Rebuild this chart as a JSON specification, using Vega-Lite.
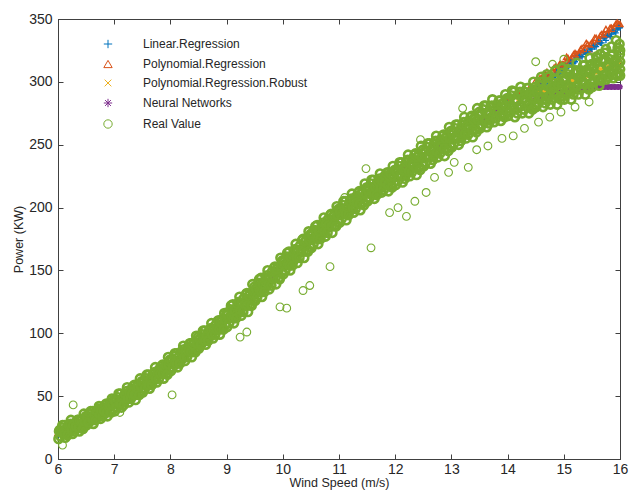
{
"$schema":"https://vega.github.io/schema/vega-lite/v6.json",
"width":562,"height":440,
"autosize":"none",
"padding":{"left":58,"top":19,"right":10,"bottom":45},
"background":"white",
"view":{"stroke":"#404040","strokeWidth":1},
"config":{"font":"Liberation Sans","axis":{"grid":false,"domainColor":"#404040","tickColor":"#404040","labelColor":"#262626","titleColor":"#262626","labelFont":"Liberation Sans","titleFont":"Liberation Sans","labelFontSize":14,"titleFontSize":12.5,"titleFontWeight":"normal","tickSize":-5,"labelFlush":false}},
"datasets":{
"pred":[
{"x":6.0,"LR":18,"PR":21,"RB":20,"NN":21},{"x":6.2,"LR":23,"PR":25,"RB":24,"NN":24},{"x":6.4,"LR":27,"PR":29,"RB":28,"NN":28},{"x":6.6,"LR":32,"PR":33,"RB":33,"NN":33},{"x":6.8,"LR":38,"PR":38,"RB":38,"NN":38},{"x":7.0,"LR":44,"PR":43,"RB":43,"NN":43},{"x":7.2,"LR":50,"PR":49,"RB":49,"NN":49},{"x":7.4,"LR":56,"PR":55,"RB":55,"NN":55},{"x":7.6,"LR":63,"PR":61,"RB":61,"NN":61},{"x":7.8,"LR":69,"PR":68,"RB":68,"NN":68},{"x":8.0,"LR":76,"PR":75,"RB":75,"NN":75},{"x":8.2,"LR":83,"PR":82,"RB":82,"NN":82},{"x":8.4,"LR":90,"PR":89,"RB":89,"NN":89},{"x":8.6,"LR":97,"PR":96,"RB":96,"NN":96},{"x":8.8,"LR":104,"PR":104,"RB":103,"NN":103},{"x":9.0,"LR":112,"PR":111,"RB":111,"NN":111},{"x":9.2,"LR":120,"PR":119,"RB":119,"NN":119},{"x":9.4,"LR":128,"PR":127,"RB":127,"NN":127},{"x":9.6,"LR":136,"PR":136,"RB":136,"NN":136},{"x":9.8,"LR":145,"PR":144,"RB":144,"NN":144},{"x":10.0,"LR":153,"PR":153,"RB":153,"NN":153},{"x":10.2,"LR":161,"PR":161,"RB":161,"NN":162},{"x":10.4,"LR":169,"PR":170,"RB":170,"NN":170},{"x":10.6,"LR":177,"PR":178,"RB":178,"NN":178},{"x":10.8,"LR":185,"PR":186,"RB":186,"NN":186},{"x":11.0,"LR":193,"PR":194,"RB":194,"NN":194},{"x":11.2,"LR":200,"PR":201,"RB":201,"NN":201},{"x":11.4,"LR":207,"PR":208,"RB":208,"NN":208},{"x":11.6,"LR":214,"PR":214,"RB":214,"NN":214},{"x":11.8,"LR":220,"PR":220,"RB":220,"NN":220},{"x":12.0,"LR":226,"PR":226,"RB":226,"NN":226},{"x":12.2,"LR":232,"PR":232,"RB":231,"NN":231},{"x":12.4,"LR":238,"PR":238,"RB":237,"NN":237},{"x":12.6,"LR":244,"PR":244,"RB":243,"NN":243},{"x":12.8,"LR":250,"PR":250,"RB":249,"NN":249},{"x":13.0,"LR":256,"PR":256,"RB":255,"NN":255},{"x":13.2,"LR":262,"PR":262,"RB":261,"NN":261},{"x":13.4,"LR":268,"PR":268,"RB":266,"NN":266},{"x":13.6,"LR":274,"PR":274,"RB":271,"NN":271},{"x":13.8,"LR":280,"PR":280,"RB":276,"NN":276},{"x":14.0,"LR":284,"PR":285,"RB":280,"NN":280},{"x":14.2,"LR":289,"PR":290,"RB":284,"NN":283},{"x":14.4,"LR":294,"PR":296,"RB":288,"NN":286},
{"x":14.5,"LR":294,"PR":301,"RB":290,"NN":287},{"x":14.55,"LR":298,"PR":299,"RB":291,"NN":288},{"x":14.6,"LR":298,"PR":303,"RB":292,"NN":288},{"x":14.65,"LR":302,"PR":303,"RB":293,"NN":289},{"x":14.7,"LR":299,"PR":308,"RB":293,"NN":289},{"x":14.75,"LR":304,"PR":304,"RB":294,"NN":290},{"x":14.8,"LR":304,"PR":309,"RB":295,"NN":290},{"x":14.85,"LR":305,"PR":312,"RB":296,"NN":291},{"x":14.9,"LR":309,"PR":310,"RB":297,"NN":291},{"x":14.95,"LR":309,"PR":314,"RB":298,"NN":292},{"x":15.0,"LR":313,"PR":314,"RB":298,"NN":292},{"x":15.05,"LR":311,"PR":320,"RB":299,"NN":293},{"x":15.1,"LR":315,"PR":315,"RB":300,"NN":293},{"x":15.15,"LR":315,"PR":320,"RB":301,"NN":294},{"x":15.2,"LR":316,"PR":323,"RB":302,"NN":294},{"x":15.25,"LR":320,"PR":321,"RB":303,"NN":294},{"x":15.3,"LR":321,"PR":326,"RB":304,"NN":295},{"x":15.35,"LR":324,"PR":325,"RB":304,"NN":295},{"x":15.4,"LR":322,"PR":331,"RB":305,"NN":296},{"x":15.45,"LR":326,"PR":326,"RB":306,"NN":296},{"x":15.5,"LR":326,"PR":331,"RB":307,"NN":296},{"x":15.55,"LR":328,"PR":335,"RB":308,"NN":296},{"x":15.6,"LR":331,"PR":332,"RB":309,"NN":296},{"x":15.65,"LR":331,"PR":337,"RB":310,"NN":296},{"x":15.7,"LR":335,"PR":337,"RB":311,"NN":296},{"x":15.75,"LR":333,"PR":342,"RB":311,"NN":296},{"x":15.8,"LR":338,"PR":338,"RB":312,"NN":296},{"x":15.85,"LR":338,"PR":343,"RB":313,"NN":296},{"x":15.9,"LR":340,"PR":344,"RB":314,"NN":296},{"x":15.95,"LR":342,"PR":347,"RB":315,"NN":296},{"x":16.0,"LR":343,"PR":346,"RB":316,"NN":296},
{"x":14.525,"LR":297,"PR":298,"RB":290,"NN":287},{"x":14.575,"LR":296,"PR":303,"RB":291,"NN":288},{"x":14.625,"LR":300,"PR":302,"RB":292,"NN":288},{"x":14.675,"LR":299,"PR":306,"RB":293,"NN":289},{"x":14.725,"LR":303,"PR":306,"RB":293,"NN":289},{"x":14.775,"LR":305,"PR":306,"RB":294,"NN":290},{"x":14.825,"LR":304,"PR":311,"RB":295,"NN":290},{"x":14.875,"LR":308,"PR":310,"RB":296,"NN":291},{"x":14.925,"LR":307,"PR":314,"RB":297,"NN":291},{"x":14.975,"LR":311,"PR":314,"RB":298,"NN":292},{"x":15.025,"LR":313,"PR":314,"RB":298,"NN":292},{"x":15.075,"LR":312,"PR":319,"RB":299,"NN":293},{"x":15.125,"LR":316,"PR":318,"RB":300,"NN":293},{"x":15.175,"LR":315,"PR":322,"RB":301,"NN":294},{"x":15.225,"LR":319,"PR":322,"RB":302,"NN":294},{"x":15.275,"LR":321,"PR":322,"RB":303,"NN":294},{"x":15.325,"LR":320,"PR":327,"RB":304,"NN":295},{"x":15.375,"LR":324,"PR":326,"RB":304,"NN":295},{"x":15.425,"LR":323,"PR":330,"RB":305,"NN":296},{"x":15.475,"LR":327,"PR":330,"RB":306,"NN":296},{"x":15.525,"LR":329,"PR":330,"RB":307,"NN":296},{"x":15.575,"LR":328,"PR":335,"RB":308,"NN":296},{"x":15.625,"LR":332,"PR":334,"RB":309,"NN":296},{"x":15.675,"LR":331,"PR":338,"RB":310,"NN":296},{"x":15.725,"LR":335,"PR":338,"RB":311,"NN":296},{"x":15.775,"LR":337,"PR":338,"RB":311,"NN":296},{"x":15.825,"LR":336,"PR":343,"RB":312,"NN":296},{"x":15.875,"LR":340,"PR":342,"RB":313,"NN":296},{"x":15.925,"LR":339,"PR":346,"RB":314,"NN":296},{"x":15.975,"LR":343,"PR":346,"RB":315,"NN":296}
],
"real":[
{"x":6.01,"RV":16},{"x":6.03,"RV":23},{"x":6.06,"RV":21},{"x":6.08,"RV":27},{"x":6.11,"RV":27},{"x":6.13,"RV":17},{"x":6.16,"RV":24},{"x":6.18,"RV":21},{"x":6.21,"RV":22},{"x":6.23,"RV":31},{"x":6.26,"RV":20},{"x":6.28,"RV":26},{"x":6.31,"RV":29},{"x":6.33,"RV":25},{"x":6.36,"RV":31},{"x":6.38,"RV":22},{"x":6.41,"RV":28},{"x":6.43,"RV":25},{"x":6.46,"RV":36},{"x":6.48,"RV":27},
{"x":6.51,"RV":27},{"x":6.53,"RV":34},{"x":6.56,"RV":31},{"x":6.58,"RV":38},{"x":6.61,"RV":38},{"x":6.63,"RV":28},{"x":6.66,"RV":36},{"x":6.68,"RV":33},{"x":6.71,"RV":34},{"x":6.73,"RV":42},{"x":6.76,"RV":32},{"x":6.78,"RV":38},{"x":6.81,"RV":41},{"x":6.83,"RV":38},{"x":6.86,"RV":44},{"x":6.88,"RV":34},{"x":6.91,"RV":41},{"x":6.93,"RV":38},{"x":6.96,"RV":48},{"x":6.98,"RV":40},
{"x":7.01,"RV":38},{"x":7.03,"RV":47},{"x":7.06,"RV":44},{"x":7.08,"RV":52},{"x":7.11,"RV":52},{"x":7.13,"RV":41},{"x":7.16,"RV":49},{"x":7.18,"RV":46},{"x":7.21,"RV":47},{"x":7.23,"RV":57},{"x":7.26,"RV":45},{"x":7.28,"RV":52},{"x":7.31,"RV":56},{"x":7.33,"RV":51},{"x":7.36,"RV":59},{"x":7.38,"RV":47},{"x":7.41,"RV":55},{"x":7.43,"RV":52},{"x":7.46,"RV":64},{"x":7.48,"RV":54},
{"x":7.51,"RV":53},{"x":7.53,"RV":62},{"x":7.56,"RV":59},{"x":7.58,"RV":67},{"x":7.61,"RV":67},{"x":7.63,"RV":56},{"x":7.66,"RV":65},{"x":7.68,"RV":61},{"x":7.71,"RV":63},{"x":7.73,"RV":73},{"x":7.76,"RV":61},{"x":7.78,"RV":68},{"x":7.81,"RV":72},{"x":7.83,"RV":68},{"x":7.86,"RV":75},{"x":7.88,"RV":64},{"x":7.91,"RV":72},{"x":7.93,"RV":68},{"x":7.96,"RV":81},{"x":7.98,"RV":71},
{"x":8.01,"RV":70},{"x":8.03,"RV":79},{"x":8.06,"RV":76},{"x":8.08,"RV":84},{"x":8.11,"RV":84},{"x":8.13,"RV":73},{"x":8.16,"RV":82},{"x":8.18,"RV":78},{"x":8.21,"RV":80},{"x":8.23,"RV":90},{"x":8.26,"RV":78},{"x":8.28,"RV":86},{"x":8.31,"RV":89},{"x":8.33,"RV":85},{"x":8.36,"RV":92},{"x":8.38,"RV":81},{"x":8.41,"RV":89},{"x":8.43,"RV":86},{"x":8.46,"RV":98},{"x":8.48,"RV":88},
{"x":8.51,"RV":88},{"x":8.53,"RV":96},{"x":8.56,"RV":94},{"x":8.58,"RV":102},{"x":8.61,"RV":102},{"x":8.63,"RV":91},{"x":8.66,"RV":100},{"x":8.68,"RV":96},{"x":8.71,"RV":98},{"x":8.73,"RV":108},{"x":8.76,"RV":96},{"x":8.78,"RV":103},{"x":8.81,"RV":107},{"x":8.83,"RV":103},{"x":8.86,"RV":110},{"x":8.88,"RV":99},{"x":8.91,"RV":107},{"x":8.93,"RV":104},{"x":8.96,"RV":116},{"x":8.98,"RV":107},
{"x":9.01,"RV":105},{"x":9.03,"RV":116},{"x":9.06,"RV":113},{"x":9.08,"RV":122},{"x":9.11,"RV":123},{"x":9.13,"RV":108},{"x":9.16,"RV":119},{"x":9.18,"RV":115},{"x":9.21,"RV":117},{"x":9.23,"RV":129},{"x":9.26,"RV":114},{"x":9.28,"RV":123},{"x":9.31,"RV":128},{"x":9.33,"RV":122},{"x":9.36,"RV":132},{"x":9.38,"RV":117},{"x":9.41,"RV":127},{"x":9.43,"RV":123},{"x":9.46,"RV":139},{"x":9.48,"RV":126},
{"x":9.51,"RV":126},{"x":9.53,"RV":136},{"x":9.56,"RV":133},{"x":9.58,"RV":143},{"x":9.61,"RV":144},{"x":9.63,"RV":129},{"x":9.66,"RV":140},{"x":9.68,"RV":136},{"x":9.71,"RV":138},{"x":9.73,"RV":150},{"x":9.76,"RV":135},{"x":9.78,"RV":144},{"x":9.81,"RV":149},{"x":9.83,"RV":144},{"x":9.86,"RV":153},{"x":9.88,"RV":139},{"x":9.91,"RV":149},{"x":9.93,"RV":144},{"x":9.96,"RV":160},{"x":9.98,"RV":148},
{"x":10.01,"RV":147},{"x":10.03,"RV":158},{"x":10.06,"RV":155},{"x":10.08,"RV":164},{"x":10.11,"RV":165},{"x":10.13,"RV":150},{"x":10.16,"RV":161},{"x":10.18,"RV":157},{"x":10.21,"RV":159},{"x":10.23,"RV":171},{"x":10.26,"RV":156},{"x":10.28,"RV":166},{"x":10.31,"RV":170},{"x":10.33,"RV":165},{"x":10.36,"RV":175},{"x":10.38,"RV":160},{"x":10.41,"RV":170},{"x":10.43,"RV":166},{"x":10.46,"RV":181},{"x":10.48,"RV":169},
{"x":10.51,"RV":168},{"x":10.53,"RV":179},{"x":10.56,"RV":176},{"x":10.58,"RV":185},{"x":10.61,"RV":186},{"x":10.63,"RV":171},{"x":10.66,"RV":182},{"x":10.68,"RV":178},{"x":10.71,"RV":180},{"x":10.73,"RV":192},{"x":10.76,"RV":177},{"x":10.78,"RV":186},{"x":10.81,"RV":191},{"x":10.83,"RV":185},{"x":10.86,"RV":195},{"x":10.88,"RV":180},{"x":10.91,"RV":190},{"x":10.93,"RV":186},{"x":10.96,"RV":201},{"x":10.98,"RV":189},
{"x":11.01,"RV":188},{"x":11.03,"RV":199},{"x":11.06,"RV":195},{"x":11.08,"RV":205},{"x":11.11,"RV":205},{"x":11.13,"RV":190},{"x":11.16,"RV":201},{"x":11.18,"RV":197},{"x":11.21,"RV":199},{"x":11.23,"RV":211},{"x":11.26,"RV":196},{"x":11.28,"RV":205},{"x":11.31,"RV":209},{"x":11.33,"RV":204},{"x":11.36,"RV":213},{"x":11.38,"RV":198},{"x":11.41,"RV":208},{"x":11.43,"RV":204},{"x":11.46,"RV":219},{"x":11.48,"RV":206},
{"x":11.51,"RV":205},{"x":11.53,"RV":216},{"x":11.56,"RV":212},{"x":11.58,"RV":222},{"x":11.61,"RV":222},{"x":11.63,"RV":207},{"x":11.66,"RV":218},{"x":11.68,"RV":213},{"x":11.71,"RV":215},{"x":11.73,"RV":227},{"x":11.76,"RV":212},{"x":11.78,"RV":220},{"x":11.81,"RV":225},{"x":11.83,"RV":219},{"x":11.86,"RV":228},{"x":11.88,"RV":213},{"x":11.91,"RV":223},{"x":11.93,"RV":218},{"x":11.96,"RV":233},{"x":11.98,"RV":220},
{"x":12.01,"RV":218},{"x":12.03,"RV":230},{"x":12.06,"RV":226},{"x":12.08,"RV":236},{"x":12.11,"RV":236},{"x":12.13,"RV":220},{"x":12.16,"RV":232},{"x":12.18,"RV":226},{"x":12.21,"RV":228},{"x":12.23,"RV":242},{"x":12.26,"RV":225},{"x":12.28,"RV":234},{"x":12.31,"RV":239},{"x":12.33,"RV":233},{"x":12.36,"RV":243},{"x":12.38,"RV":226},{"x":12.41,"RV":237},{"x":12.43,"RV":232},{"x":12.46,"RV":249},{"x":12.48,"RV":234},
{"x":12.51,"RV":233},{"x":12.53,"RV":245},{"x":12.56,"RV":241},{"x":12.58,"RV":251},{"x":12.61,"RV":251},{"x":12.63,"RV":235},{"x":12.66,"RV":247},{"x":12.68,"RV":241},{"x":12.71,"RV":243},{"x":12.73,"RV":257},{"x":12.76,"RV":240},{"x":12.78,"RV":249},{"x":12.81,"RV":254},{"x":12.83,"RV":248},{"x":12.86,"RV":258},{"x":12.88,"RV":241},{"x":12.91,"RV":252},{"x":12.93,"RV":247},{"x":12.96,"RV":264},{"x":12.98,"RV":249},
{"x":13.01,"RV":248},{"x":13.03,"RV":260},{"x":13.06,"RV":256},{"x":13.08,"RV":266},{"x":13.11,"RV":266},{"x":13.13,"RV":250},{"x":13.16,"RV":262},{"x":13.18,"RV":256},{"x":13.21,"RV":258},{"x":13.23,"RV":272},{"x":13.26,"RV":255},{"x":13.28,"RV":264},{"x":13.31,"RV":269},{"x":13.33,"RV":263},{"x":13.36,"RV":273},{"x":13.38,"RV":256},{"x":13.41,"RV":267},{"x":13.43,"RV":262},{"x":13.46,"RV":279},{"x":13.48,"RV":264},
{"x":13.51,"RV":263},{"x":13.53,"RV":275},{"x":13.56,"RV":270},{"x":13.58,"RV":281},{"x":13.61,"RV":281},{"x":13.63,"RV":264},{"x":13.66,"RV":276},{"x":13.68,"RV":270},{"x":13.71,"RV":272},{"x":13.73,"RV":286},{"x":13.76,"RV":268},{"x":13.78,"RV":278},{"x":13.81,"RV":282},{"x":13.83,"RV":276},{"x":13.86,"RV":285},{"x":13.88,"RV":269},{"x":13.91,"RV":279},{"x":13.93,"RV":274},{"x":13.96,"RV":290},{"x":13.98,"RV":276},
{"x":14.01,"RV":273},{"x":14.03,"RV":286},{"x":14.06,"RV":281},{"x":14.08,"RV":293},{"x":14.11,"RV":292},{"x":14.13,"RV":272},{"x":14.16,"RV":286},{"x":14.18,"RV":279},{"x":14.21,"RV":281},{"x":14.23,"RV":296},{"x":14.26,"RV":275},{"x":14.28,"RV":286},{"x":14.31,"RV":292},{"x":14.33,"RV":284},{"x":14.36,"RV":295},{"x":14.38,"RV":275},{"x":14.41,"RV":287},{"x":14.43,"RV":280},{"x":14.46,"RV":300},{"x":14.48,"RV":282},
{"x":14.51,"RV":280},{"x":14.53,"RV":294},{"x":14.56,"RV":288},{"x":14.58,"RV":300},{"x":14.61,"RV":300},{"x":14.63,"RV":280},{"x":14.66,"RV":293},{"x":14.68,"RV":286},{"x":14.71,"RV":288},{"x":14.73,"RV":304},{"x":14.76,"RV":282},{"x":14.78,"RV":294},{"x":14.81,"RV":299},{"x":14.83,"RV":291},{"x":14.86,"RV":302},{"x":14.88,"RV":282},{"x":14.91,"RV":295},{"x":14.93,"RV":288},{"x":14.96,"RV":307},{"x":14.98,"RV":289},
{"x":15.01,"RV":286},{"x":15.03,"RV":302},{"x":15.06,"RV":296},{"x":15.08,"RV":310},{"x":15.11,"RV":309},{"x":15.13,"RV":286},{"x":15.16,"RV":302},{"x":15.18,"RV":294},{"x":15.21,"RV":296},{"x":15.23,"RV":315},{"x":15.26,"RV":290},{"x":15.28,"RV":303},{"x":15.31,"RV":309},{"x":15.33,"RV":300},{"x":15.36,"RV":313},{"x":15.38,"RV":290},{"x":15.41,"RV":304},{"x":15.43,"RV":296},{"x":15.46,"RV":319},{"x":15.48,"RV":299},
{"x":15.51,"RV":296},{"x":15.53,"RV":312},{"x":15.56,"RV":306},{"x":15.58,"RV":320},{"x":15.61,"RV":319},{"x":15.63,"RV":297},{"x":15.66,"RV":311},{"x":15.68,"RV":303},{"x":15.71,"RV":305},{"x":15.73,"RV":323},{"x":15.76,"RV":302},{"x":15.78,"RV":312},{"x":15.81,"RV":318},{"x":15.83,"RV":308},{"x":15.86,"RV":321},{"x":15.88,"RV":303},{"x":15.91,"RV":312},{"x":15.93,"RV":306},{"x":15.96,"RV":327},{"x":15.98,"RV":307},
{"x":16.0,"RV":305},{"x":16.0,"RV":316},{"x":16.0,"RV":325},{"x":16.0,"RV":310},{"x":15.85,"RV":328},{"x":15.93,"RV":333},{"x":15.99,"RV":330},{"x":15.75,"RV":326},{"x":15.65,"RV":322},{"x":14.6,"RV":304},{"x":14.7,"RV":306},{"x":14.85,"RV":309},{"x":14.97,"RV":311},
{"x":6.02,"RV":22},{"x":6.045,"RV":18},{"x":6.07,"RV":25},{"x":6.095,"RV":21},{"x":6.12,"RV":20},{"x":6.145,"RV":24},{"x":6.17,"RV":19},{"x":6.195,"RV":27},{"x":6.22,"RV":28},{"x":6.245,"RV":23},{"x":6.27,"RV":27},{"x":6.295,"RV":22},{"x":6.32,"RV":26},{"x":6.345,"RV":31},{"x":6.37,"RV":25},{"x":6.395,"RV":30},{"x":6.42,"RV":31},{"x":6.445,"RV":24},{"x":6.47,"RV":30},{"x":6.495,"RV":34},
{"x":6.52,"RV":33},{"x":6.545,"RV":29},{"x":6.57,"RV":36},{"x":6.595,"RV":32},{"x":6.62,"RV":31},{"x":6.645,"RV":35},{"x":6.67,"RV":31},{"x":6.695,"RV":38},{"x":6.72,"RV":40},{"x":6.745,"RV":35},{"x":6.77,"RV":38},{"x":6.795,"RV":34},{"x":6.82,"RV":38},{"x":6.845,"RV":43},{"x":6.87,"RV":37},{"x":6.895,"RV":42},{"x":6.92,"RV":43},{"x":6.945,"RV":37},{"x":6.97,"RV":43},{"x":6.995,"RV":47},
{"x":7.02,"RV":46},{"x":7.045,"RV":41},{"x":7.07,"RV":49},{"x":7.095,"RV":44},{"x":7.12,"RV":44},{"x":7.145,"RV":48},{"x":7.17,"RV":43},{"x":7.195,"RV":52},{"x":7.22,"RV":54},{"x":7.245,"RV":48},{"x":7.27,"RV":53},{"x":7.295,"RV":48},{"x":7.32,"RV":52},{"x":7.345,"RV":58},{"x":7.37,"RV":51},{"x":7.395,"RV":57},{"x":7.42,"RV":58},{"x":7.445,"RV":51},{"x":7.47,"RV":58},{"x":7.495,"RV":62},
{"x":7.52,"RV":61},{"x":7.545,"RV":56},{"x":7.57,"RV":64},{"x":7.595,"RV":59},{"x":7.62,"RV":59},{"x":7.645,"RV":63},{"x":7.67,"RV":59},{"x":7.695,"RV":68},{"x":7.72,"RV":69},{"x":7.745,"RV":64},{"x":7.77,"RV":68},{"x":7.795,"RV":64},{"x":7.82,"RV":68},{"x":7.845,"RV":74},{"x":7.87,"RV":68},{"x":7.895,"RV":73},{"x":7.92,"RV":75},{"x":7.945,"RV":67},{"x":7.97,"RV":75},{"x":7.995,"RV":79},
{"x":8.02,"RV":78},{"x":8.045,"RV":73},{"x":8.07,"RV":82},{"x":8.095,"RV":77},{"x":8.12,"RV":76},{"x":8.145,"RV":81},{"x":8.17,"RV":76},{"x":8.195,"RV":85},{"x":8.22,"RV":87},{"x":8.245,"RV":81},{"x":8.27,"RV":86},{"x":8.295,"RV":81},{"x":8.32,"RV":86},{"x":8.345,"RV":92},{"x":8.37,"RV":85},{"x":8.395,"RV":91},{"x":8.42,"RV":93},{"x":8.445,"RV":85},{"x":8.47,"RV":92},{"x":8.495,"RV":97},
{"x":8.52,"RV":95},{"x":8.545,"RV":91},{"x":8.57,"RV":99},{"x":8.595,"RV":94},{"x":8.62,"RV":94},{"x":8.645,"RV":98},{"x":8.67,"RV":94},{"x":8.695,"RV":103},{"x":8.72,"RV":104},{"x":8.745,"RV":99},{"x":8.77,"RV":103},{"x":8.795,"RV":99},{"x":8.82,"RV":103},{"x":8.845,"RV":110},{"x":8.87,"RV":103},{"x":8.895,"RV":109},{"x":8.92,"RV":111},{"x":8.945,"RV":103},{"x":8.97,"RV":111},{"x":8.995,"RV":115},
{"x":9.02,"RV":115},{"x":9.045,"RV":108},{"x":9.07,"RV":119},{"x":9.095,"RV":113},{"x":9.12,"RV":112},{"x":9.145,"RV":118},{"x":9.17,"RV":112},{"x":9.195,"RV":123},{"x":9.22,"RV":125},{"x":9.245,"RV":118},{"x":9.27,"RV":124},{"x":9.295,"RV":117},{"x":9.32,"RV":123},{"x":9.345,"RV":131},{"x":9.37,"RV":122},{"x":9.395,"RV":130},{"x":9.42,"RV":132},{"x":9.445,"RV":122},{"x":9.47,"RV":131},{"x":9.495,"RV":137},
{"x":9.52,"RV":135},{"x":9.545,"RV":129},{"x":9.57,"RV":140},{"x":9.595,"RV":134},{"x":9.62,"RV":133},{"x":9.645,"RV":139},{"x":9.67,"RV":133},{"x":9.695,"RV":144},{"x":9.72,"RV":146},{"x":9.745,"RV":139},{"x":9.77,"RV":145},{"x":9.795,"RV":138},{"x":9.82,"RV":144},{"x":9.845,"RV":152},{"x":9.87,"RV":144},{"x":9.895,"RV":151},{"x":9.92,"RV":153},{"x":9.945,"RV":143},{"x":9.97,"RV":153},{"x":9.995,"RV":158},
{"x":10.02,"RV":157},{"x":10.045,"RV":150},{"x":10.07,"RV":161},{"x":10.095,"RV":155},{"x":10.12,"RV":154},{"x":10.145,"RV":160},{"x":10.17,"RV":154},{"x":10.195,"RV":165},{"x":10.22,"RV":167},{"x":10.245,"RV":160},{"x":10.27,"RV":166},{"x":10.295,"RV":160},{"x":10.32,"RV":166},{"x":10.345,"RV":174},{"x":10.37,"RV":165},{"x":10.395,"RV":173},{"x":10.42,"RV":174},{"x":10.445,"RV":165},{"x":10.47,"RV":174},{"x":10.495,"RV":179},
{"x":10.52,"RV":178},{"x":10.545,"RV":171},{"x":10.57,"RV":182},{"x":10.595,"RV":176},{"x":10.62,"RV":175},{"x":10.645,"RV":181},{"x":10.67,"RV":175},{"x":10.695,"RV":186},{"x":10.72,"RV":188},{"x":10.745,"RV":181},{"x":10.77,"RV":187},{"x":10.795,"RV":180},{"x":10.82,"RV":186},{"x":10.845,"RV":194},{"x":10.87,"RV":185},{"x":10.895,"RV":193},{"x":10.92,"RV":194},{"x":10.945,"RV":185},{"x":10.97,"RV":194},{"x":10.995,"RV":199},
{"x":11.02,"RV":197},{"x":11.045,"RV":191},{"x":11.07,"RV":202},{"x":11.095,"RV":196},{"x":11.12,"RV":195},{"x":11.145,"RV":200},{"x":11.17,"RV":194},{"x":11.195,"RV":205},{"x":11.22,"RV":207},{"x":11.245,"RV":200},{"x":11.27,"RV":205},{"x":11.295,"RV":199},{"x":11.32,"RV":204},{"x":11.345,"RV":212},{"x":11.37,"RV":203},{"x":11.395,"RV":211},{"x":11.42,"RV":212},{"x":11.445,"RV":202},{"x":11.47,"RV":211},{"x":11.495,"RV":216},
{"x":11.52,"RV":214},{"x":11.545,"RV":208},{"x":11.57,"RV":219},{"x":11.595,"RV":212},{"x":11.62,"RV":211},{"x":11.645,"RV":216},{"x":11.67,"RV":210},{"x":11.695,"RV":221},{"x":11.72,"RV":223},{"x":11.745,"RV":216},{"x":11.77,"RV":221},{"x":11.795,"RV":214},{"x":11.82,"RV":220},{"x":11.845,"RV":227},{"x":11.87,"RV":218},{"x":11.895,"RV":225},{"x":11.92,"RV":227},{"x":11.945,"RV":216},{"x":11.97,"RV":225},{"x":11.995,"RV":230},
{"x":12.02,"RV":229},{"x":12.045,"RV":221},{"x":12.07,"RV":233},{"x":12.095,"RV":226},{"x":12.12,"RV":225},{"x":12.145,"RV":230},{"x":12.17,"RV":223},{"x":12.195,"RV":236},{"x":12.22,"RV":238},{"x":12.245,"RV":229},{"x":12.27,"RV":235},{"x":12.295,"RV":228},{"x":12.32,"RV":234},{"x":12.345,"RV":242},{"x":12.37,"RV":232},{"x":12.395,"RV":240},{"x":12.42,"RV":242},{"x":12.445,"RV":230},{"x":12.47,"RV":240},{"x":12.495,"RV":246},
{"x":12.52,"RV":244},{"x":12.545,"RV":236},{"x":12.57,"RV":248},{"x":12.595,"RV":241},{"x":12.62,"RV":240},{"x":12.645,"RV":245},{"x":12.67,"RV":238},{"x":12.695,"RV":251},{"x":12.72,"RV":253},{"x":12.745,"RV":244},{"x":12.77,"RV":250},{"x":12.795,"RV":243},{"x":12.82,"RV":249},{"x":12.845,"RV":257},{"x":12.87,"RV":247},{"x":12.895,"RV":255},{"x":12.92,"RV":257},{"x":12.945,"RV":245},{"x":12.97,"RV":255},{"x":12.995,"RV":261},
{"x":13.02,"RV":259},{"x":13.045,"RV":251},{"x":13.07,"RV":263},{"x":13.095,"RV":256},{"x":13.12,"RV":255},{"x":13.145,"RV":260},{"x":13.17,"RV":253},{"x":13.195,"RV":266},{"x":13.22,"RV":268},{"x":13.245,"RV":259},{"x":13.27,"RV":265},{"x":13.295,"RV":258},{"x":13.32,"RV":264},{"x":13.345,"RV":272},{"x":13.37,"RV":262},{"x":13.395,"RV":270},{"x":13.42,"RV":272},{"x":13.445,"RV":260},{"x":13.47,"RV":270},{"x":13.495,"RV":276},
{"x":13.52,"RV":274},{"x":13.545,"RV":266},{"x":13.57,"RV":278},{"x":13.595,"RV":270},{"x":13.62,"RV":269},{"x":13.645,"RV":275},{"x":13.67,"RV":267},{"x":13.695,"RV":280},{"x":13.72,"RV":281},{"x":13.745,"RV":273},{"x":13.77,"RV":278},{"x":13.795,"RV":271},{"x":13.82,"RV":276},{"x":13.845,"RV":285},{"x":13.87,"RV":274},{"x":13.895,"RV":282},{"x":13.92,"RV":283},{"x":13.945,"RV":272},{"x":13.97,"RV":281},{"x":13.995,"RV":287},
{"x":14.02,"RV":285},{"x":14.045,"RV":276},{"x":14.07,"RV":289},{"x":14.095,"RV":280},{"x":14.12,"RV":278},{"x":14.145,"RV":284},{"x":14.17,"RV":275},{"x":14.195,"RV":290},{"x":14.22,"RV":292},{"x":14.245,"RV":281},{"x":14.27,"RV":287},{"x":14.295,"RV":278},{"x":14.32,"RV":285},{"x":14.345,"RV":295},{"x":14.37,"RV":282},{"x":14.395,"RV":291},{"x":14.42,"RV":292},{"x":14.445,"RV":278},{"x":14.47,"RV":289},{"x":14.495,"RV":296},
{"x":14.52,"RV":292},{"x":14.545,"RV":283},{"x":14.57,"RV":297},{"x":14.595,"RV":288},{"x":14.62,"RV":286},{"x":14.645,"RV":292},{"x":14.67,"RV":283},{"x":14.695,"RV":297},{"x":14.72,"RV":299},{"x":14.745,"RV":289},{"x":14.77,"RV":295},{"x":14.795,"RV":286},{"x":14.82,"RV":292},{"x":14.845,"RV":302},{"x":14.87,"RV":289},{"x":14.895,"RV":298},{"x":14.92,"RV":300},{"x":14.945,"RV":286},{"x":14.97,"RV":297},{"x":14.995,"RV":303},
{"x":15.02,"RV":301},{"x":15.045,"RV":290},{"x":15.07,"RV":306},{"x":15.095,"RV":295},{"x":15.12,"RV":293},{"x":15.145,"RV":300},{"x":15.17,"RV":290},{"x":15.195,"RV":307},{"x":15.22,"RV":309},{"x":15.245,"RV":297},{"x":15.27,"RV":304},{"x":15.295,"RV":294},{"x":15.32,"RV":301},{"x":15.345,"RV":313},{"x":15.37,"RV":298},{"x":15.395,"RV":308},{"x":15.42,"RV":310},{"x":15.445,"RV":294},{"x":15.47,"RV":307},{"x":15.495,"RV":314},
{"x":15.52,"RV":311},{"x":15.545,"RV":300},{"x":15.57,"RV":315},{"x":15.595,"RV":305},{"x":15.62,"RV":302},{"x":15.645,"RV":310},{"x":15.67,"RV":301},{"x":15.695,"RV":316},{"x":15.72,"RV":318},{"x":15.745,"RV":306},{"x":15.77,"RV":313},{"x":15.795,"RV":304},{"x":15.82,"RV":309},{"x":15.845,"RV":321},{"x":15.87,"RV":306},{"x":15.895,"RV":316},{"x":15.92,"RV":318},{"x":15.945,"RV":305},{"x":15.97,"RV":314},{"x":15.995,"RV":322}
],
"out":[
{"x":6.08,"RV":11},{"x":6.27,"RV":43},{"x":7.1,"RV":37},{"x":8.03,"RV":51},{"x":9.24,"RV":97},{"x":9.36,"RV":101},{"x":9.95,"RV":121},{"x":10.07,"RV":120},{"x":10.36,"RV":134},{"x":10.48,"RV":138},{"x":10.84,"RV":153},{"x":11.1,"RV":208},{"x":11.48,"RV":231},{"x":11.57,"RV":168},{"x":11.9,"RV":196},{"x":12.05,"RV":200},{"x":12.2,"RV":193},{"x":12.35,"RV":205},{"x":12.55,"RV":212},{"x":12.7,"RV":224},{"x":12.95,"RV":228},{"x":13.05,"RV":236},{"x":13.3,"RV":232},{"x":13.45,"RV":246},{"x":13.65,"RV":249},{"x":13.9,"RV":255},{"x":14.1,"RV":257},{"x":14.3,"RV":263},{"x":14.55,"RV":268},{"x":14.75,"RV":272},{"x":14.95,"RV":276},{"x":15.2,"RV":280},{"x":15.45,"RV":284},{"x":14.5,"RV":316},{"x":14.8,"RV":314},{"x":15.0,"RV":318},{"x":12.45,"RV":254},{"x":13.2,"RV":279}
]
},
"layer":[
{"data":{"name":"pred"},
"transform":[{"fold":["LR","PR","RB","NN"],"as":["series","P"]}],
"mark":{"type":"point","filled":false,"size":36,"strokeWidth":1.4,"opacity":1},
"encoding":{
"x":{"field":"x","type":"quantitative","scale":{"domain":[6,16],"nice":false,"zero":false},"axis":{"values":[6,7,8,9,10,11,12,13,14,15,16],"labelPadding":8,"title":"Wind Speed (m/s)","titlePadding":0}},
"y":{"field":"P","type":"quantitative","scale":{"domain":[0,350],"nice":false},"axis":{"values":[0,50,100,150,200,250,300,350],"labelPadding":11,"title":"Power (KW)","titlePadding":3}},
"color":{"field":"series","type":"nominal","scale":{"domain":["LR","PR","RB","NN","RV"],"range":["#0072BD","#D95319","#EDB120","#7E2F8E","#77AC30"]},
"legend":{"title":null,"orient":"none","legendX":44,"legendY":19,"labelExpr":"{'LR':'Linear.Regression','PR':'Polynomial.Regression','RB':'Polynomial.Regression.Robust','NN':'Neural Networks','RV':'Real Value'}[datum.label]","labelFontSize":12,"labelFont":"Liberation Sans","labelColor":"#262626","labelLimit":0,"symbolSize":70,"symbolStrokeWidth":1,"labelOffset":29,"rowPadding":7,"padding":0}},
"shape":{"field":"series","type":"nominal","scale":{"domain":["LR","PR","RB","NN","RV"],"range":["M-1,0L1,0M0,-1L0,1","triangle-up","M-0.8,-0.8L0.8,0.8M-0.8,0.8L0.8,-0.8","M-1,0L1,0M0,-1L0,1M-0.7,-0.7L0.7,0.7M-0.7,0.7L0.7,-0.7","circle"]}}
}},
{"data":{"name":"real"},
"transform":[{"fold":["RV"],"as":["series","P"]}],
"mark":{"type":"point","filled":false,"size":68,"strokeWidth":2.6,"opacity":1},
"encoding":{
"x":{"field":"x","type":"quantitative","scale":{"domain":[6,16],"nice":false,"zero":false},"axis":{"orient":"top","values":[6,7,8,9,10,11,12,13,14,15,16],"labels":false,"title":null}},
"y":{"field":"P","type":"quantitative","scale":{"domain":[0,350],"nice":false},"axis":{"orient":"right","values":[0,50,100,150,200,250,300,350],"labels":false,"title":null}},
"color":{"field":"series","type":"nominal","scale":{"domain":["LR","PR","RB","NN","RV"],"range":["#0072BD","#D95319","#EDB120","#7E2F8E","#77AC30"]}},
"shape":{"field":"series","type":"nominal","scale":{"domain":["LR","PR","RB","NN","RV"],"range":["M-1,0L1,0M0,-1L0,1","triangle-up","M-0.8,-0.8L0.8,0.8M-0.8,0.8L0.8,-0.8","M-1,0L1,0M0,-1L0,1M-0.7,-0.7L0.7,0.7M-0.7,0.7L0.7,-0.7","circle"]}}
}},
{"data":{"name":"out"},
"transform":[{"fold":["RV"],"as":["series","P"]}],
"mark":{"type":"point","filled":false,"size":60,"strokeWidth":1.1,"opacity":1},
"encoding":{
"x":{"field":"x","type":"quantitative","scale":{"domain":[6,16],"nice":false,"zero":false},"axis":null},
"y":{"field":"P","type":"quantitative","scale":{"domain":[0,350],"nice":false},"axis":null},
"color":{"field":"series","type":"nominal","scale":{"domain":["LR","PR","RB","NN","RV"],"range":["#0072BD","#D95319","#EDB120","#7E2F8E","#77AC30"]}},
"shape":{"field":"series","type":"nominal","scale":{"domain":["LR","PR","RB","NN","RV"],"range":["M-1,0L1,0M0,-1L0,1","triangle-up","M-0.8,-0.8L0.8,0.8M-0.8,0.8L0.8,-0.8","M-1,0L1,0M0,-1L0,1M-0.7,-0.7L0.7,0.7M-0.7,0.7L0.7,-0.7","circle"]}}
}}
],
"resolve":{"axis":{"x":"independent","y":"independent"}}
}
